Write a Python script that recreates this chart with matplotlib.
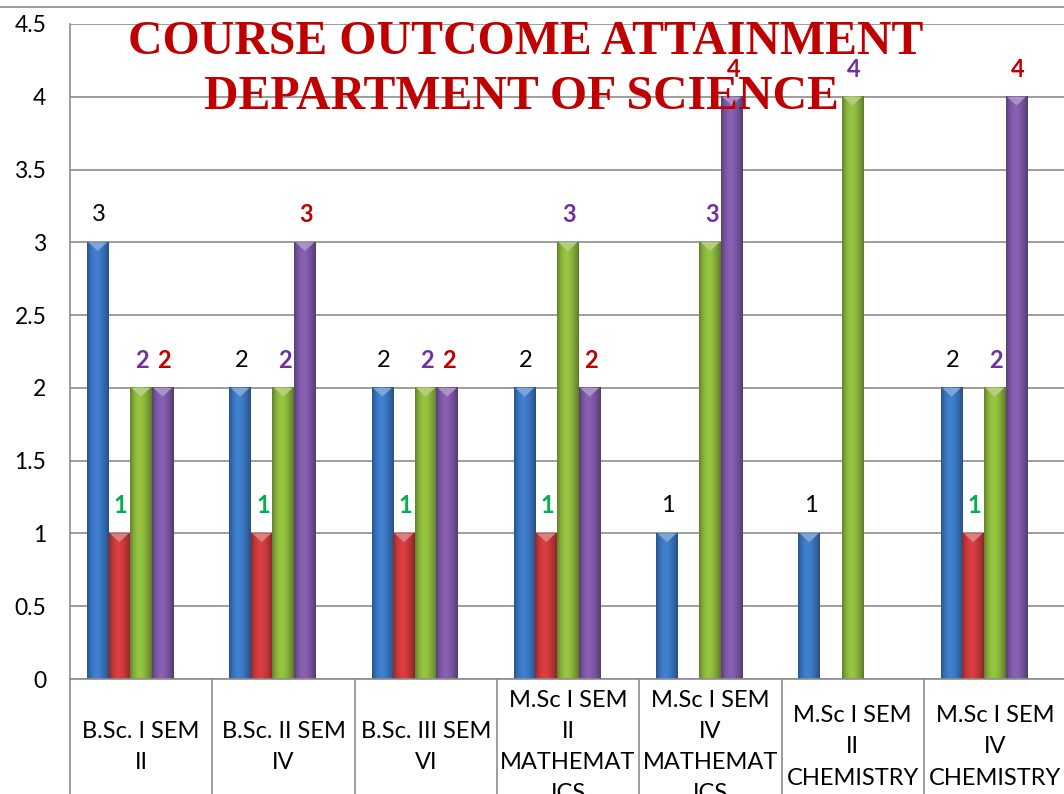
import matplotlib.pyplot as plt
import numpy as np
from matplotlib.colors import to_rgb
from matplotlib.lines import Line2D
from matplotlib.patches import Polygon

# --- Data ---
categories = ["B.Sc. I SEM\nII", "B.Sc. II SEM\nIV", "B.Sc. III SEM\nVI",
              "M.Sc I SEM\nII\nMATHEMAT\nICS", "M.Sc I SEM\nIV\nMATHEMAT\nICS",
              "M.Sc I SEM\nII\nCHEMISTRY", "M.Sc I SEM\nIV\nCHEMISTRY"]
blue_vals = [3, 2, 2, 2, 1, 1, 2]
red_vals = [1, 1, 1, 1, 0, 0, 1]
green_vals = [2, 2, 2, 3, 3, 4, 2]
purple_vals = [2, 3, 2, 2, 4, 0, 4]
y_ticks = [0, 0.5, 1, 1.5, 2, 2.5, 3, 3.5, 4, 4.5]

series = [blue_vals, red_vals, green_vals, purple_vals]
bar_colors = ["#3a75bf", "#c8393b", "#8ab43c", "#7c58a4"]
label_colors = ["black", "#00b050", "#7030a0", "#c00000"]
label_weights = ["normal", "bold", "bold", "bold"]

plt.rcParams["font.family"] = ["Lato", "DejaVu Sans"]

fig = plt.figure(figsize=(10.64, 7.94), dpi=100)
ax = fig.add_axes([70 / 1064, 1 - 679 / 794, 7 * 142.3 / 1064, (679 - 24) / 794])

# --- Bars with cylinder-like shading ---
width = 0.152
group_shift = -0.077
x = np.arange(len(categories))
shade = np.array([0.72, 0.95, 1.08, 1.1, 1.0, 0.86, 0.68])
cols = np.linspace(0, 1, 64)
fac = np.interp(cols, np.linspace(0, 1, len(shade)), shade)

for i, vals in enumerate(series):
    pos = x + group_shift + (i - 1.5) * width
    bars = ax.bar(pos, vals, width, color=bar_colors[i], zorder=2, linewidth=0)
    base = np.array(to_rgb(bar_colors[i]))
    grad = np.clip(base[None, :] * fac[:, None], 0, 1)[None, :, :]
    light = np.clip(base + (1 - base) * 0.35, 0, 1)
    for b, v in zip(bars, vals):
        if v <= 0:
            continue
        x0, x1 = b.get_x(), b.get_x() + b.get_width()
        h = b.get_height()
        ax.imshow(grad, extent=[x0, x1, 0, h], aspect="auto", zorder=2.1,
                  interpolation="bilinear")
        xc = (x0 + x1) / 2
        ax.add_patch(Polygon([[x0 + 0.01, h], [x1 - 0.01, h], [xc, h - 0.06]],
                             closed=True, color=light, zorder=2.2, linewidth=0))
        ax.text(xc + 0.01, h + 0.19, f"{v:g}", ha="center", va="center",
                fontsize=17, color=label_colors[i], fontweight=label_weights[i],
                zorder=4)

# --- Axes styling ---
ax.set_xlim(-0.5, len(categories) - 0.5)
ax.set_ylim(0, 4.5)
ax.set_yticks(y_ticks)
ax.set_yticklabels([f"{t:g}" for t in y_ticks], fontsize=16.5)
ax.tick_params(axis="y", length=0, pad=17)
ax.set_xticks([])
ax.yaxis.grid(True, color="#8c8c8c", linewidth=1.2, zorder=0)
ax.set_axisbelow(True)
for s in ["top", "right"]:
    ax.spines[s].set_visible(False)
ax.spines["left"].set_color("#8c8c8c")
ax.spines["left"].set_linewidth(1.2)
ax.spines["bottom"].set_color("#8c8c8c")
ax.spines["bottom"].set_linewidth(1.2)

# category table below the axis
for b in np.arange(len(categories) + 1) - 0.5:
    ax.plot([b, b], [0, -1.0], color="#8c8c8c", linewidth=1.2, clip_on=False)
for i, lab in enumerate(categories):
    ax.text(i, -0.467, lab, ha="center", va="center", fontsize=17,
            linespacing=1.6, clip_on=False)

# border line on top of chart area
fig.add_artist(Line2D([0, 1], [1 - 7 / 794] * 2, color="#8c8c8c", linewidth=1.2))

# --- Title ---
fig.text(526 / 1064, 1 - 42 / 794, "COURSE OUTCOME ATTAINMENT", ha="center",
         va="center", fontsize=34.4, fontweight="bold", color="#c00000",
         family="Liberation Serif", zorder=10)
fig.text(521 / 1064, 1 - 97 / 794, "DEPARTMENT OF SCIENCE", ha="center",
         va="center", fontsize=34.4, fontweight="bold", color="#c00000",
         family="Liberation Serif", zorder=10)

fig.savefig("out.png", dpi=100)
